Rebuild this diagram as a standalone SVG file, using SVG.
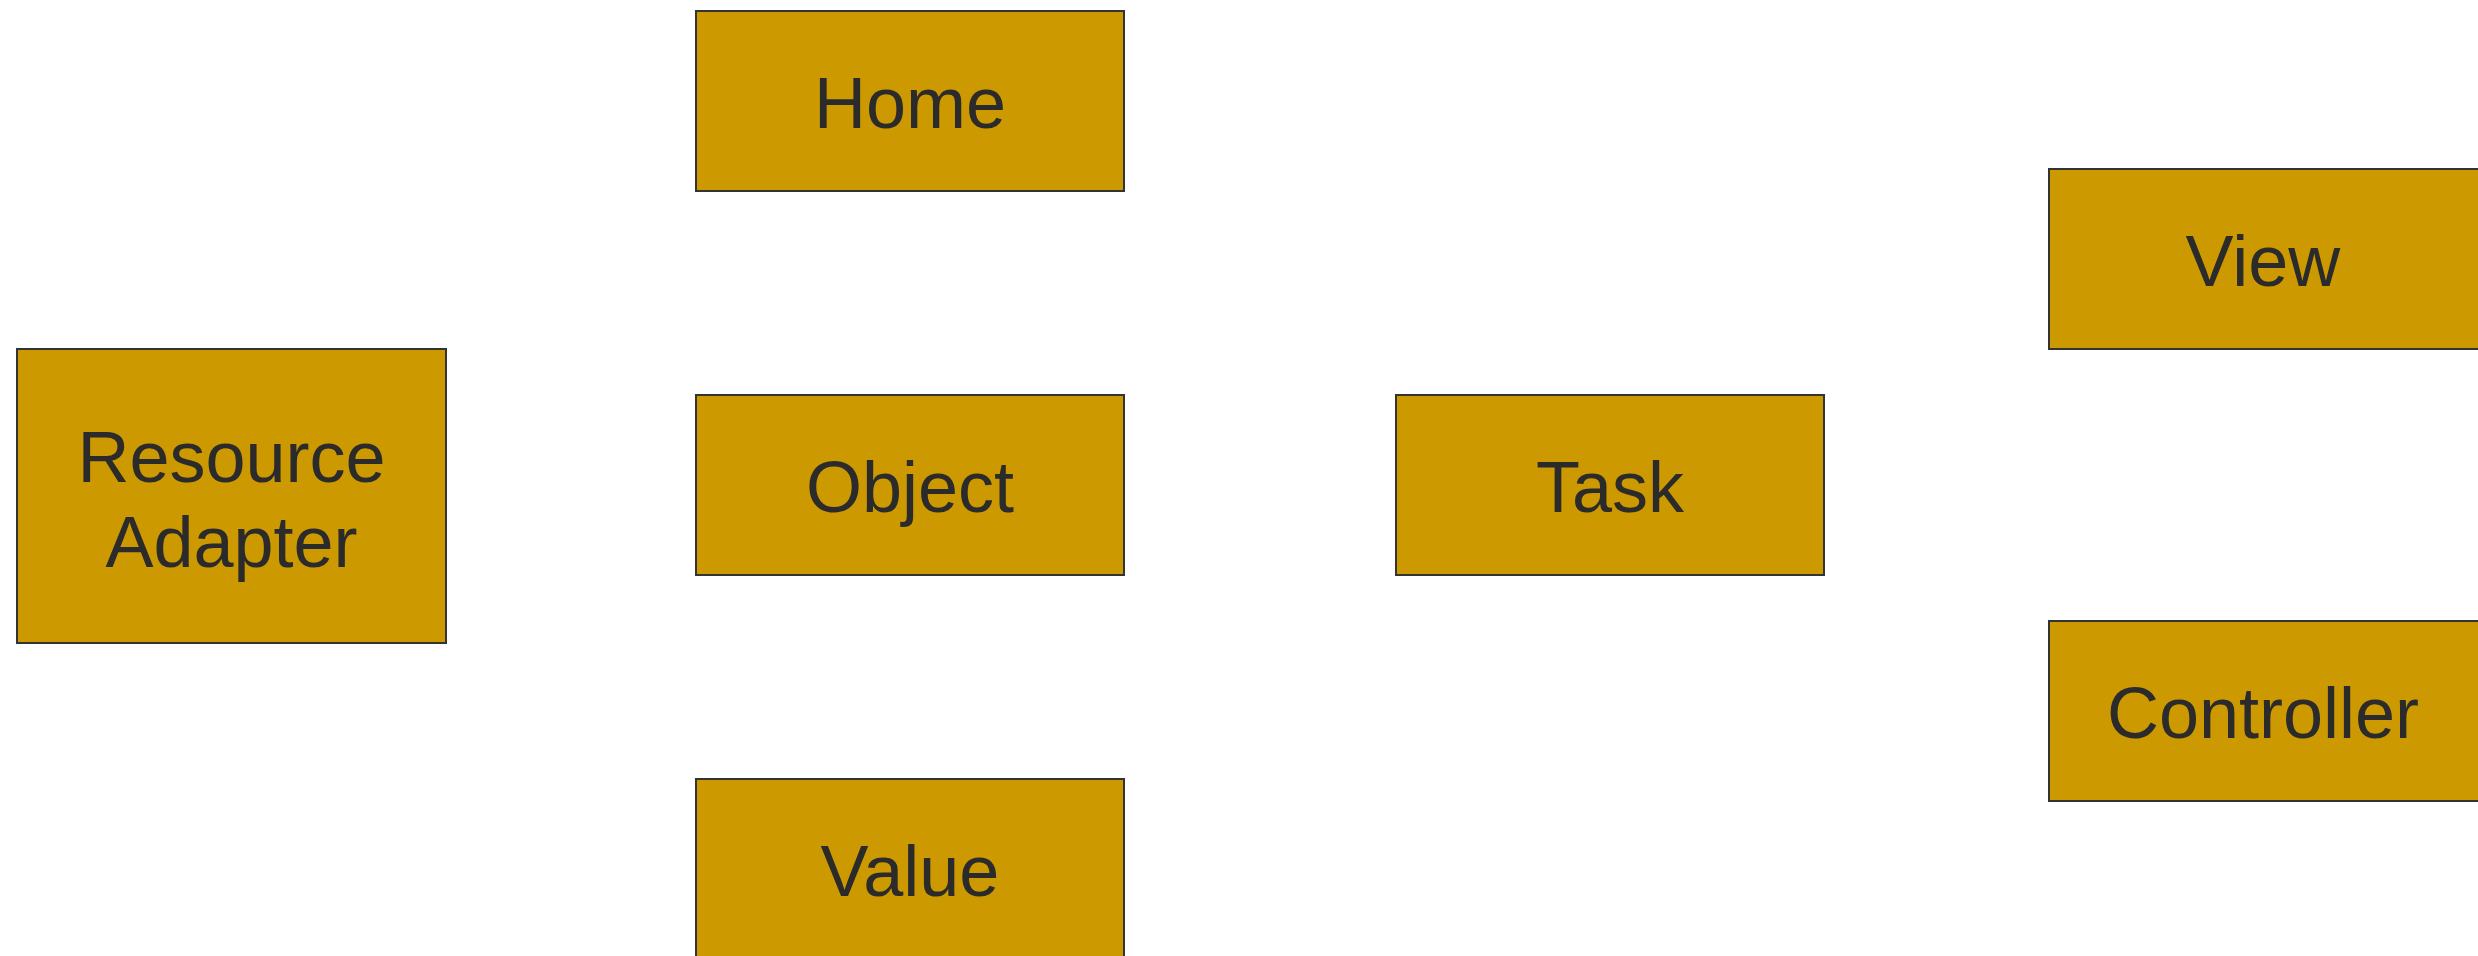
<svg xmlns="http://www.w3.org/2000/svg" width="2478" height="956" viewBox="0 0 2478 956">
<style>
.box{fill:#CC9900;stroke:#333333;stroke-width:2}
.lbl{font-family:"Liberation Sans",Arial,sans-serif;font-size:72px;fill:#2b2b2b;text-anchor:middle}
</style>
<rect x="0" y="0" width="2478" height="956" fill="#ffffff"/>
<g id="connectors"></g>
<g id="resource-adapter"><rect class="box" x="17" y="349" width="429" height="294"/><text class="lbl" x="231.5" y="482">Resource</text><text class="lbl" x="231.5" y="567">Adapter</text></g>
<g id="home"><rect class="box" x="696" y="11" width="428" height="180"/><text class="lbl" x="910" y="128">Home</text></g>
<g id="object"><rect class="box" x="696" y="395" width="428" height="180"/><text class="lbl" x="910" y="512">Object</text></g>
<g id="value"><rect class="box" x="696" y="779" width="428" height="180"/><text class="lbl" x="910" y="896">Value</text></g>
<g id="task"><rect class="box" x="1396" y="395" width="428" height="180"/><text class="lbl" x="1610" y="512">Task</text></g>
<g id="view"><rect class="box" x="2049" y="169" width="432" height="180"/><text class="lbl" x="2263" y="286">View</text></g>
<g id="controller"><rect class="box" x="2049" y="621" width="432" height="180"/><text class="lbl" x="2263" y="738">Controller</text></g>
</svg>
